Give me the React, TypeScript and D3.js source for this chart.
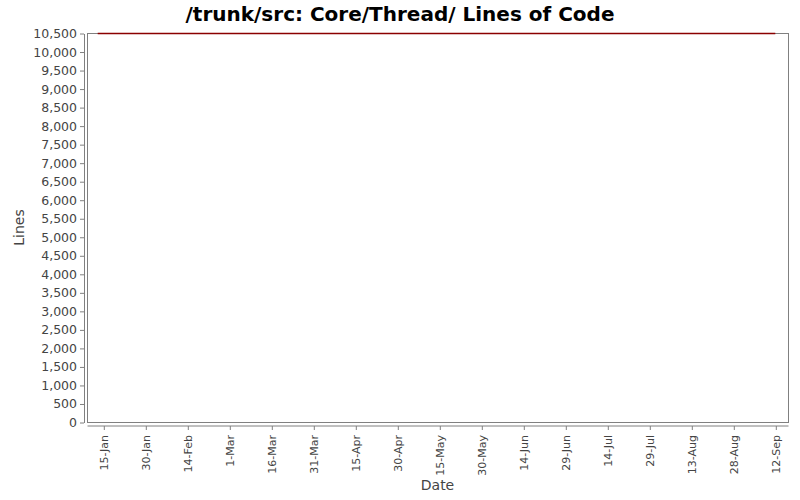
import React, { useEffect, useRef } from 'react';
import * as d3 from 'd3';

const width = 800;
const height = 500;
// plot frame (JFreeChart-like, with axes offset from the frame)
const plot = { left: 87, right: 788, top: 33, bottom: 422 };
const axisOffset = 3.5;

const title = '/trunk/src: Core/Thread/ Lines of Code';
const xLabel = 'Date';
const yLabel = 'Lines';

// series
const dates = ['2007-01-13', '2007-09-12'];
const lines = [10500, 10500];

// tick labels
const firstTick = '2007-01-15';
const tickStepDays = 15;
const tickCount = 17;
const yMax = 10500;
const yStep = 500;

const parse = d3.timeParse('%Y-%m-%d');

const App = () => {
  const ref = useRef<SVGSVGElement>(null);

  useEffect(() => {
    if (!ref.current) return;
    const svg = d3.select(ref.current);
    svg.selectAll('*').remove();

    const t0 = parse(firstTick) as Date;
    const tickDates = d3.range(tickCount).map((i) => d3.timeDay.offset(t0, i * tickStepDays));

    // 15-Jan sits at 103.3px and 12-Sep at 775.3px in the reference
    const x = d3
      .scaleTime()
      .domain([tickDates[0], tickDates[tickDates.length - 1]])
      .range([103.3, 775.3]);

    const y = d3.scaleLinear().domain([0, yMax]).range([plot.bottom, plot.top]);

    svg.append('rect').attr('width', width).attr('height', height).attr('fill', 'white');

    // title
    svg
      .append('text')
      .attr('x', width / 2)
      .attr('y', 21)
      .attr('text-anchor', 'middle')
      .style('font-family', 'DejaVu Sans')
      .style('font-weight', 'bold')
      .style('font-size', '20px')
      .attr('fill', '#000')
      .text(title);

    // plot outline
    svg
      .append('rect')
      .attr('x', plot.left + 0.5)
      .attr('y', plot.top + 0.5)
      .attr('width', plot.right - plot.left)
      .attr('height', plot.bottom - plot.top)
      .attr('fill', 'none')
      .attr('stroke', '#808080');

    // y axis
    const yAxis = svg
      .append('g')
      .attr('transform', `translate(${plot.left - axisOffset + 0.5}, 0.5)`)
      .call(
        d3
          .axisLeft(y)
          .tickValues(d3.range(0, yMax + 1, yStep))
          .tickFormat(d3.format(',') as any)
          .tickSizeInner(4)
          .tickSizeOuter(0)
          .tickPadding(3)
      );
    yAxis.select('.domain').attr('stroke', '#808080');
    yAxis.selectAll('.tick line').attr('stroke', '#808080');
    yAxis
      .selectAll('.tick text')
      .attr('fill', '#444')
      .style('font-family', 'DejaVu Sans')
      .style('font-size', '12.5px');

    // x axis
    const xAxis = svg
      .append('g')
      .attr('transform', `translate(0.5, ${plot.bottom + axisOffset + 0.5})`)
      .call(
        d3
          .axisBottom(x)
          .tickValues(tickDates)
          .tickFormat(d3.timeFormat('%-d-%b') as any)
          .tickSizeInner(4)
          .tickSizeOuter(0)
      );
    xAxis
      .select('.domain')
      .attr('d', `M${plot.left},0H${plot.right}`)
      .attr('stroke', '#808080');
    xAxis.selectAll('.tick line').attr('stroke', '#808080');
    xAxis
      .selectAll('.tick text')
      .attr('fill', '#444')
      .style('font-family', 'DejaVu Sans')
      .style('font-size', '11px')
      .attr('transform', 'rotate(-90)')
      .attr('text-anchor', 'end')
      .attr('x', -9)
      .attr('y', 0)
      .attr('dy', '0.35em');

    // series line
    const pts = dates.map((d, i) => ({ date: parse(d) as Date, v: lines[i] }));
    svg
      .append('path')
      .datum(pts)
      .attr('fill', 'none')
      .attr('stroke', '#8b0000')
      .attr('stroke-width', 1.5)
      .attr(
        'd',
        d3
          .line<{ date: Date; v: number }>()
          .x((d) => x(d.date))
          .y((d) => y(d.v) + 0.5)
      );

    // axis labels
    svg
      .append('text')
      .attr('transform', `translate(24, ${(plot.top + plot.bottom) / 2}) rotate(-90)`)
      .attr('text-anchor', 'middle')
      .style('font-family', 'DejaVu Sans')
      .style('font-size', '14px')
      .attr('fill', '#444')
      .text(yLabel);

    svg
      .append('text')
      .attr('x', (plot.left + plot.right) / 2)
      .attr('y', 490)
      .attr('text-anchor', 'middle')
      .style('font-family', 'DejaVu Sans')
      .style('font-size', '14px')
      .attr('fill', '#444')
      .text(xLabel);
  }, []);

  return (
    <svg
      ref={ref}
      width={width}
      height={height}
      style={{ position: 'absolute', left: 0, top: 0, display: 'block' }}
    />
  );
};

export default App;
